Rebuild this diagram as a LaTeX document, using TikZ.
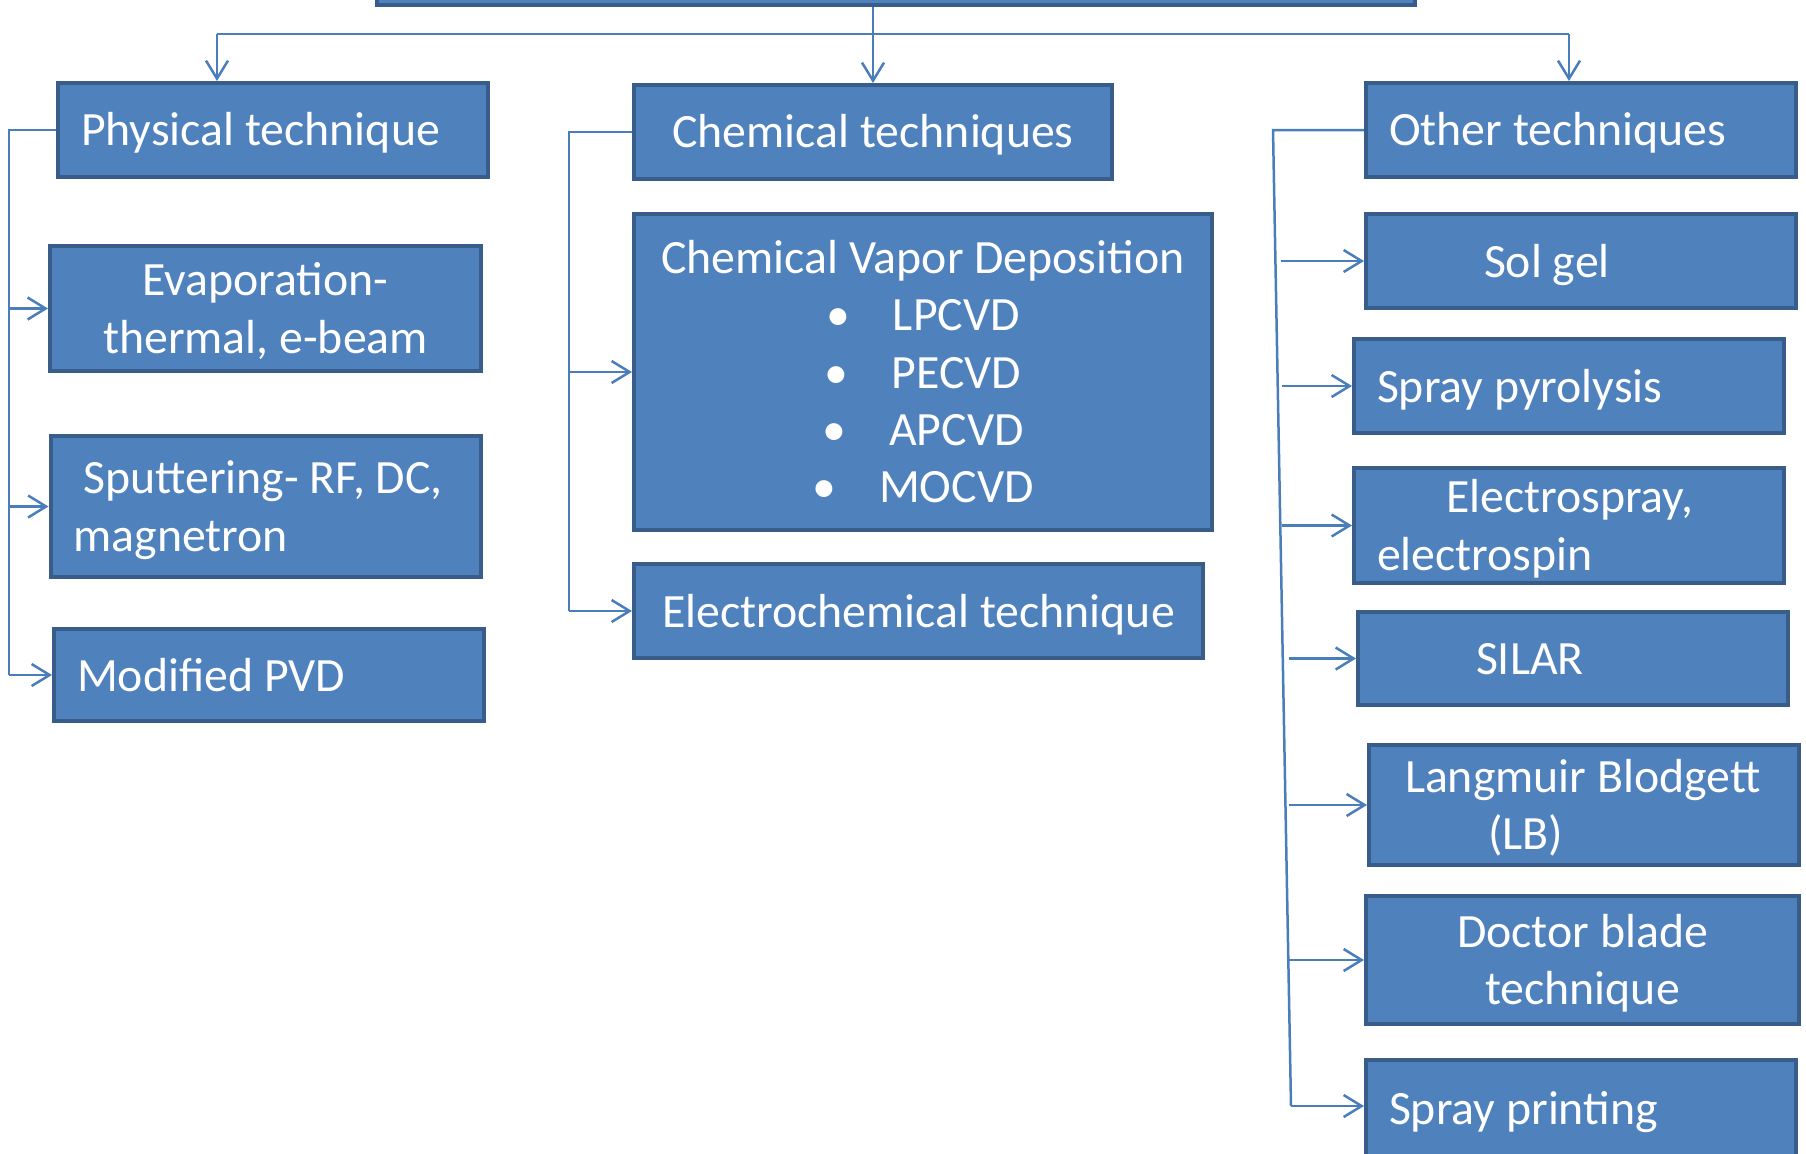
\documentclass[tikz,border=0pt]{standalone}
\usepackage{fontspec}
\setmainfont{Carlito}
\usetikzlibrary{arrows.meta,calc}
\definecolor{boxfill}{HTML}{4F81BD}
\definecolor{boxline}{HTML}{385D8A}
\definecolor{linkc}{HTML}{4A7EBB}

\begin{document}
\begin{tikzpicture}[
    x=0.1mm, y=-0.1mm,
    tbox/.style={rectangle, draw=boxline, line width=0.4mm, fill=boxfill, text=white,
                 font=\fontsize{13.6pt}{16.3pt}\selectfont, inner ysep=0pt,
                 text height=12.6pt, execute at end node={\rule[-3.5pt]{0pt}{0pt}}},
    lbox/.style={tbox, align=flush left, text width=38.4mm, inner xsep=2.3mm},
    cbox/.style={tbox, align=flush center, inner xsep=0pt, text width=#1},
    link/.style={draw=linkc, line width=0.25mm},
    arr/.style={link, -{Straight Barb[length=1.8mm, width=2.2mm]}}
]
\useasboundingbox (0,0) rectangle (1806,1153);
\node[tbox, minimum width=103.8mm, minimum height=6.3mm] (root) at (896,-26.5) {};
% physical
\node[lbox, minimum height=9.4mm] (phys) at (273,130) {Physical technique};
\node[cbox=43.1mm, minimum height=12.5mm] (evap) at (265.5,308.5) {Evaporation-\\thermal, e-beam};
\node[lbox, minimum height=14.1mm] (sput) at (265.5,506.5) {\hspace*{1mm}Sputtering- RF, DC,\\magnetron};
\node[lbox, minimum height=9.2mm] (mpvd) at (269,675) {Modified PVD};
% chemical
\node[cbox=47.8mm, minimum height=9.4mm] (chem) at (873,132) {Chemical techniques};
\node[cbox=57.8mm, minimum height=31.6mm] (cvd) at (923,372) {Chemical Vapor Deposition\\\textbullet\hspace{4.3mm}LPCVD\\\textbullet\hspace{4.3mm}PECVD\\\textbullet\hspace{4.3mm}APCVD\\\textbullet\hspace{4.3mm}MOCVD};
\node[cbox=56.9mm, minimum height=9.4mm] (echem) at (918.5,611) {Electrochemical technique};
% other
\node[lbox, minimum height=9.4mm] (other) at (1581,130) {Other techniques};
\node[lbox, minimum height=9.4mm] (sol) at (1581,261) {\hspace*{9.5mm}Sol gel};
\node[lbox, minimum height=9.4mm] (pyro) at (1569,386) {Spray pyrolysis};
\node[lbox, minimum height=11.5mm] (espray) at (1569,525.5) {\hspace*{6.9mm}Electrospray,\\electrospin};
\node[lbox, minimum height=9.3mm] (silar) at (1573,658.5) {\hspace*{9.5mm}SILAR};
\node[lbox, minimum height=12mm] (lb) at (1584,805) {\hspace*{1.3mm}Langmuir Blodgett\\\hspace*{9.6mm}(LB)};
\node[cbox=43.3mm, minimum height=12.8mm] (doctor) at (1582.5,960) {Doctor blade\\technique};
\node[lbox, minimum height=9.6mm] (sprint) at (1581,1108) {Spray printing};

\coordinate (busL) at (217,34);
\coordinate (busR) at (1569,34);
\coordinate (pTop) at (9,130);
\coordinate (cTop) at (569,130);
\coordinate (oTop) at (1273,130);
\coordinate (oBot) at (1291,1106);

\draw[arr] (root.south -| chem.north) -- (chem.north);
\draw[link] (busL) -- (busR);
\draw[arr] (busL) -- (busL |- phys.north);
\draw[arr] (busR) -- (busR |- other.north);
\draw[link] (phys.west) -- (pTop) -- (pTop |- mpvd.west);
\foreach \n in {evap,sput,mpvd} \draw[arr] (pTop |- \n.west) -- (\n.west);
\draw[link] (chem.west) -- (chem.west -| cTop) -- (cTop |- echem.west);
\foreach \n in {cvd,echem} \draw[arr] (cTop |- \n.west) -- (\n.west);
\draw[link] (other.west) -- (oTop) -- (oBot);
\draw[arr] (oBot) -- (oBot -| sprint.west);
\foreach \n/\s in {sol/1281,pyro/1282,espray/1282,silar/1289,lb/1289,doctor/1289} \draw[arr] (\s,0 |- \n.west) -- (\n.west);
\end{tikzpicture}
\end{document}
